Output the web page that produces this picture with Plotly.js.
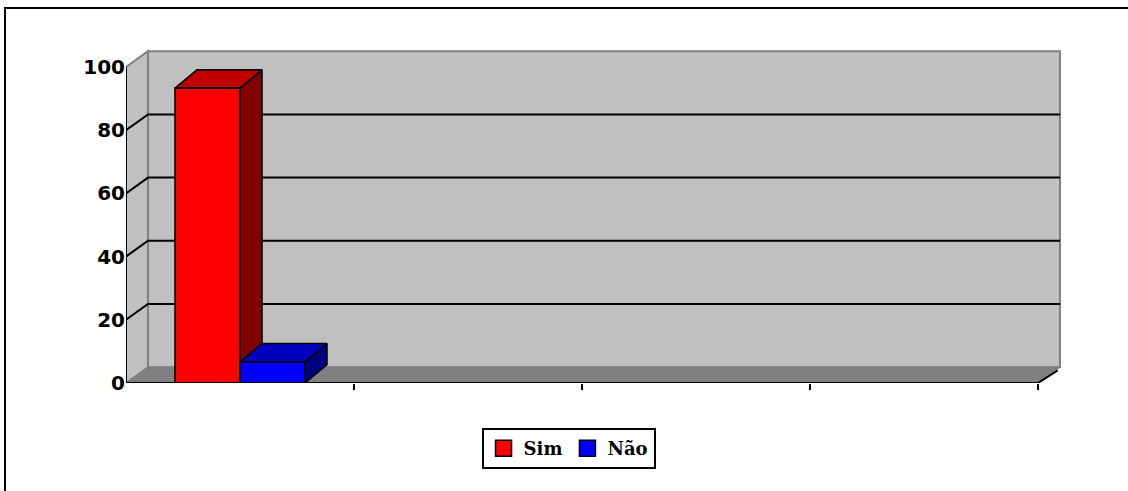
<!DOCTYPE html>
<html>
<head>
<meta charset="utf-8">
<script src="https://cdn.plot.ly/plotly-3.0.1.min.js"></script>
<style>
  html, body { margin: 0; padding: 0; background: #fff; overflow: hidden; }
  #chart { width: 1128px; height: 491px; position: absolute; left: 0; top: 0; }
  #frame { position: absolute; left: 4px; top: 7px; width: 1300px; height: 700px;
           border-top: 2px solid #000; border-left: 2px solid #000; pointer-events: none; }
</style>
</head>
<body>
<div id="chart"></div>
<div id="frame"></div>
<script>
// ---- data ----
const categoryCount = 4;           // category slots on the x axis (no labels)
const categoryIndex = [0];         // categories that carry data
const seriesNames = ["Sim", "Não"];
const simValues = [93.3];
const naoValues = [6.7];
const yTickValues = [0, 20, 40, 60, 80, 100];
const yGridValues = [20, 40, 60, 80];

// ---- styles / geometry (not data) ----
const frontColors = ["#FF0000", "#0000FF"];
const topColors   = ["#C00000", "#0000C0"];
const sideColors  = ["#800000", "#000080"];
const barW = 0.285;                 // per-series width in category units
const wallDx = 0.0965, wallDy = 5.0; // depth offset of walls (data units)
const barDx = 0.0965, barDy = 5.8;   // depth offset of columns
const xMin = -0.5, xMax = categoryCount - 0.5;
const yMax = 100;
const tickLenX = 4 / 228;            // 4 px expressed in x units

const series = [simValues, naoValues];
const traces = [];

function poly(xs, ys, color) {
  return {
    type: "scatter", mode: "lines",
    x: xs.concat([xs[0]]), y: ys.concat([ys[0]]),
    fill: "toself", fillcolor: color,
    line: { color: "#000", width: 1.6 },
    hoverinfo: "skip", showlegend: false
  };
}

series.forEach((vals, k) => {
  vals.forEach((v, j) => {
    const c = categoryIndex[j];
    const x0 = c - barW * series.length / 2 + k * barW;
    const x1 = x0 + barW;
    traces.push(poly([x1, x1 + barDx, x1 + barDx, x1], [0, barDy, v + barDy, v], sideColors[k]));
    traces.push(poly([x0, x1, x1 + barDx, x0 + barDx], [v, v, v + barDy, v + barDy], topColors[k]));
    traces.push(poly([x0, x1, x1, x0], [0, 0, v, v], frontColors[k]));
  });
});

// legend entries
seriesNames.forEach((n, k) => {
  traces.push({
    type: "scatter", mode: "markers", name: n,
    x: [null], y: [null],
    marker: { symbol: "square", size: 16, color: frontColors[k], line: { color: "#000", width: 1.5 } },
    hoverinfo: "skip"
  });
});

// walls, floor, gridlines
const shapes = [];
const bx0 = xMin + wallDx, bx1 = xMax + wallDx;
shapes.push({ type: "path", layer: "below", xref: "x", yref: "y",
  path: `M${bx0},${wallDy} L${bx1},${wallDy} L${bx1},${yMax + wallDy} L${bx0},${yMax + wallDy} Z`,
  fillcolor: "#C0C0C0", line: { color: "#808080", width: 2 } });
shapes.push({ type: "path", layer: "below", xref: "x", yref: "y",
  path: `M${xMin},0 L${bx0},${wallDy} L${bx0},${yMax + wallDy} L${xMin},${yMax} Z`,
  fillcolor: "#C0C0C0", line: { color: "#808080", width: 2 } });
shapes.push({ type: "path", layer: "below", xref: "x", yref: "y",
  path: `M${xMin},0 L${xMax},0 L${bx1},${wallDy} L${bx0},${wallDy} Z`,
  fillcolor: "#808080", line: { color: "#808080", width: 1 } });
yGridValues.forEach(v => {
  shapes.push({ type: "path", layer: "below", xref: "x", yref: "y",
    path: `M${xMin},${v} L${bx0},${v + wallDy} L${bx1},${v + wallDy}`,
    line: { color: "#000", width: 2 } });
});
// front axes
shapes.push({ type: "line", layer: "above", xref: "x", yref: "y",
  x0: xMin, y0: 0, x1: xMin, y1: yMax, line: { color: "#000", width: 2 } });
shapes.push({ type: "line", layer: "above", xref: "x", yref: "y",
  x0: xMin, y0: 0, x1: xMax, y1: 0, line: { color: "#000", width: 2 } });
shapes.push({ type: "line", layer: "above", xref: "x", yref: "y",
  x0: xMax, y0: 0, x1: bx1 - 0.01, y1: wallDy * 0.8, line: { color: "#000", width: 2 } });
// y tick marks on the front axis
yTickValues.forEach(v => {
  shapes.push({ type: "line", layer: "above", xref: "x", yref: "y",
    x0: xMin - tickLenX, y0: v, x1: xMin, y1: v, line: { color: "#000", width: 2 } });
});

const xTickVals = [];
for (let i = 0; i < categoryCount; i++) xTickVals.push(i + 0.5);

const layout = {
  width: 1128, height: 491,
  margin: { l: 126, r: 66, t: 47, b: 108 },
  paper_bgcolor: "rgba(0,0,0,0)", plot_bgcolor: "rgba(0,0,0,0)",
  showlegend: true,
  xaxis: {
    range: [xMin, xMin + 936 / 228], fixedrange: true,
    showgrid: false, zeroline: false, showline: false,
    tickvals: xTickVals, ticks: "outside", ticklen: 6, tickwidth: 2, tickcolor: "#000",
    showticklabels: false
  },
  yaxis: {
    range: [0, 336 / 3.16], fixedrange: true,
    showgrid: false, zeroline: false, showline: false,
    tickvals: yTickValues, ticktext: yTickValues.map(String),
    ticks: "", ticklabelstandoff: 0,
    tickfont: { family: "DejaVu Sans", size: 20, color: "#000", weight: "bold" }
  },
  legend: {
    orientation: "h", x: 0.4728, xanchor: "center", y: -0.134, yanchor: "top",
    bordercolor: "#000", borderwidth: 2, bgcolor: "#fff",
    font: { family: "DejaVu Serif", size: 18, color: "#000", weight: "bold" },
    itemclick: false, itemdoubleclick: false
  },
  shapes: shapes
};

Plotly.newPlot("chart", traces, layout, { staticPlot: true, displayModeBar: false });
</script>
</body>
</html>
